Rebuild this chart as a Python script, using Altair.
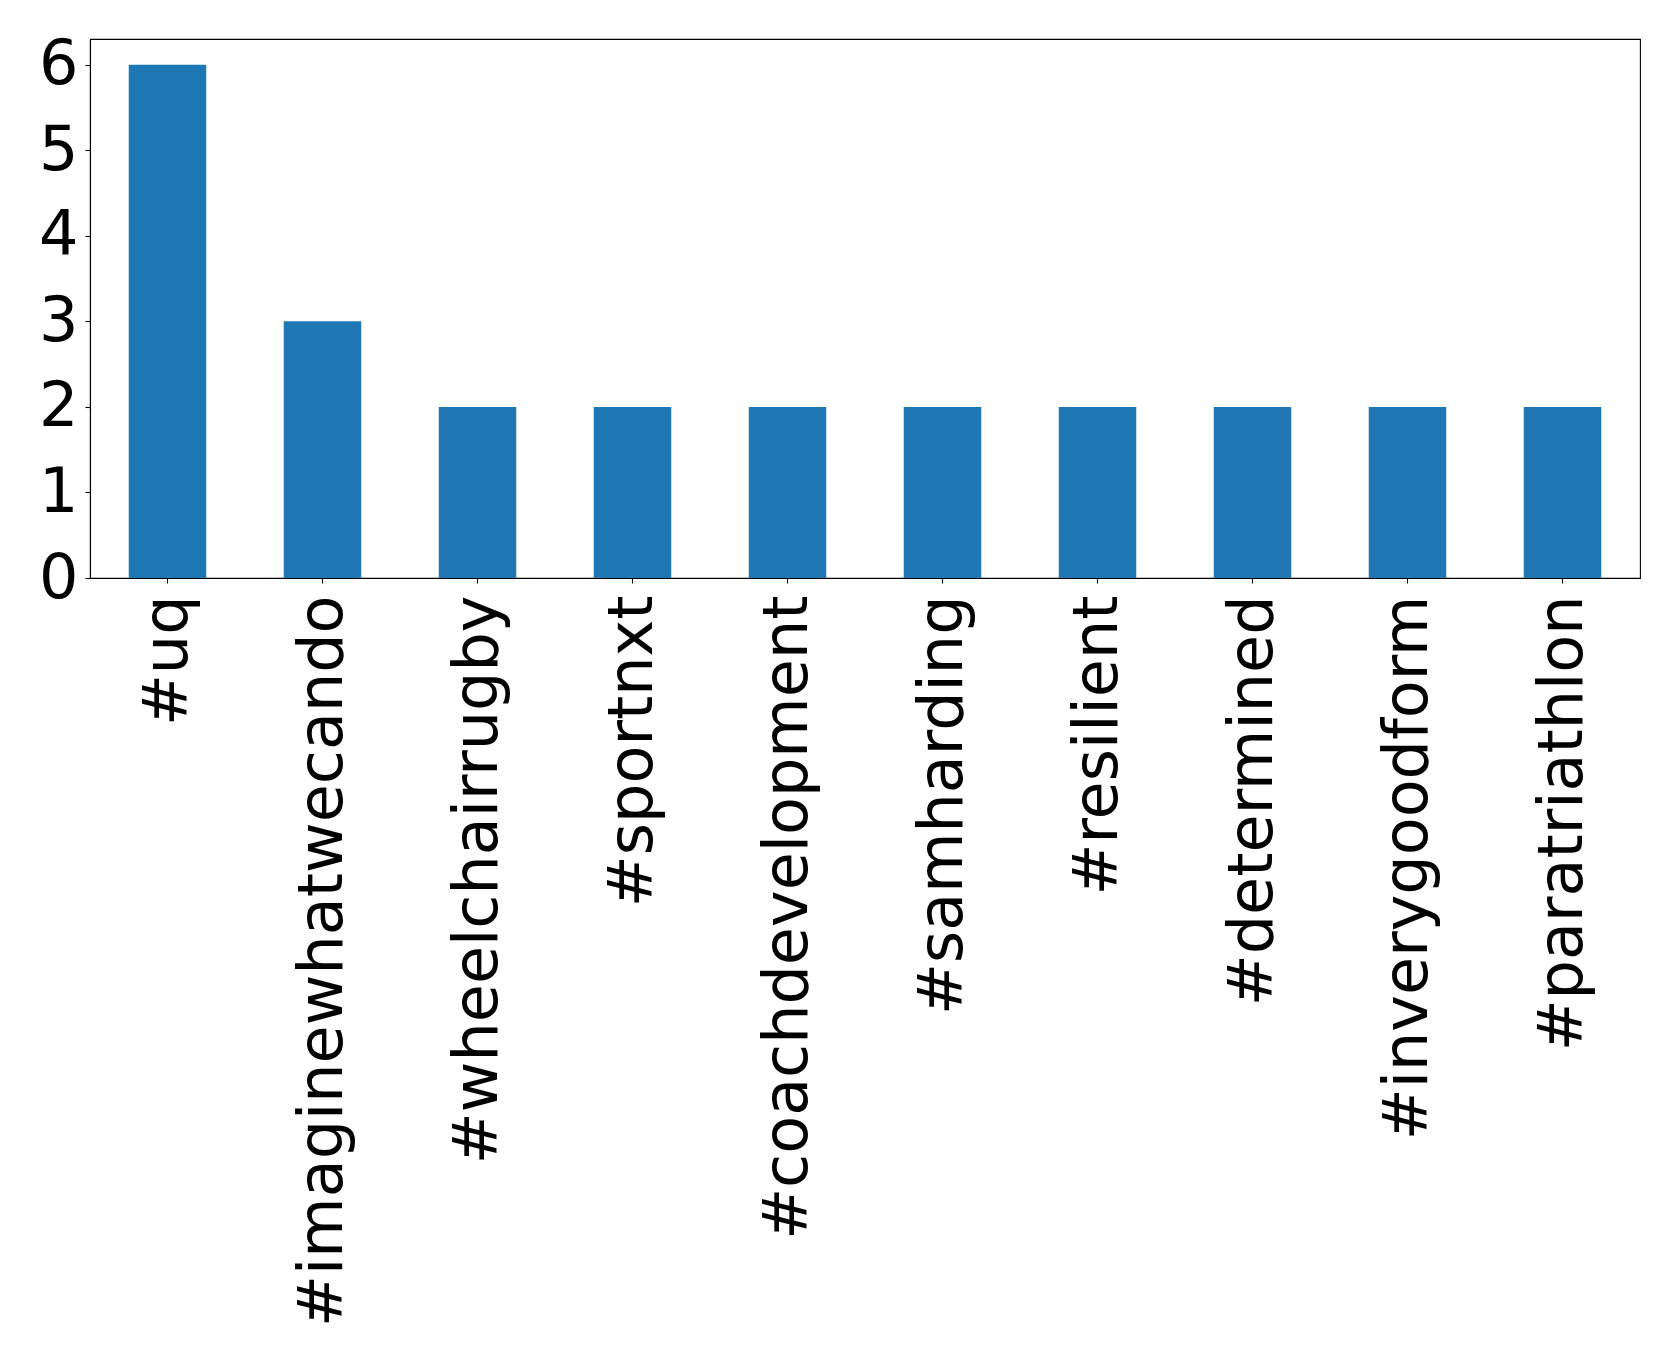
import altair as alt
import pandas as pd

hashtags = ["#uq", "#imaginewhatwecando", "#wheelchairrugby", "#sportnxt",
            "#coachdevelopment", "#samharding", "#resilient", "#determined",
            "#inverygoodform", "#paratriathlon"]
counts = [6, 3, 2, 2, 2, 2, 2, 2, 2, 2]
y_ticks = [0, 1, 2, 3, 4, 5, 6]

df = pd.DataFrame({"tag": hashtags, "count": counts})

FONT = "DejaVu Sans"
FS = 62

chart = alt.Chart(df).mark_bar(color="#1f77b4").encode(
    x=alt.X("tag:N", sort=None, title=None,
            scale=alt.Scale(paddingInner=0.5, paddingOuter=0.25),
            axis=alt.Axis(labelAngle=270, labelAlign="right", labelBaseline="middle",
                          labelFont=FONT, labelFontSize=FS, labelColor="black",
                          labelLimit=2000, labelOverlap=False, labelPadding=12,
                          tickSize=5, tickColor="black", domainColor="black",
                          domainWidth=1.1, tickWidth=1.1)),
    y=alt.Y("count:Q", title=None,
            scale=alt.Scale(domain=[0, 6.3], nice=False, zero=True),
            axis=alt.Axis(values=y_ticks, grid=False, labelFont=FONT, labelFontSize=FS,
                          labelColor="black", labelPadding=7, tickSize=5,
                          tickColor="black", domainColor="black", domainWidth=1.1,
                          tickWidth=1.1, labelFlush=False, format="d")),
).properties(
    width=1550, height=539,
    background="white",
    autosize=alt.AutoSizeParams(type="none"),
    padding={"left": 82, "top": 31, "right": 30, "bottom": 780},
).configure_view(stroke="black", strokeWidth=1.1)

chart.save("out.html", embed_options={"renderer": "svg", "actions": False})
